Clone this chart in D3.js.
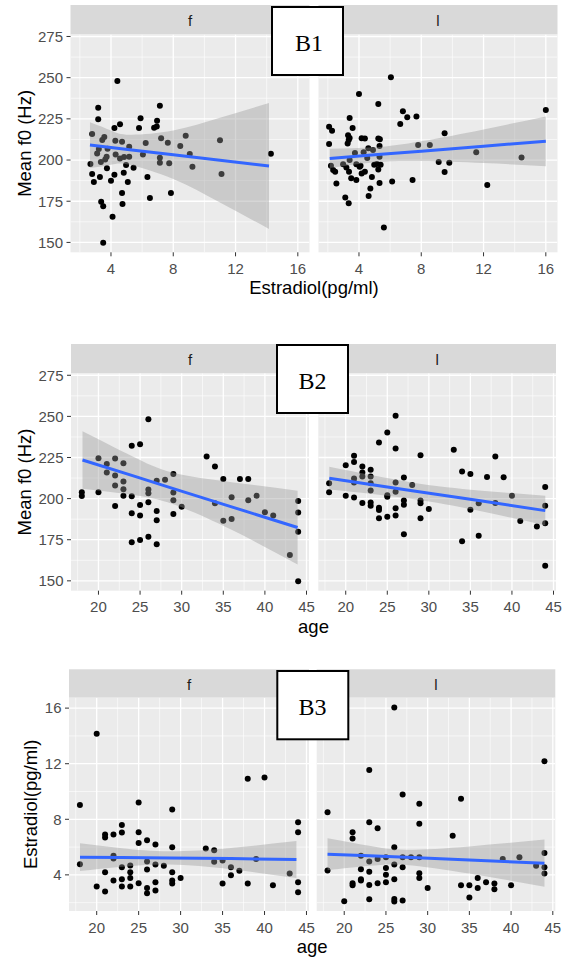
<!DOCTYPE html>
<html>
<head>
<meta charset="utf-8">
<script src="https://cdn.jsdelivr.net/npm/d3@7"></script>
<style>
    body {margin: 0; background: #fff;}
    svg {display: block; font-family: "Liberation Sans", Arial, sans-serif;}
</style>
</head>
<body>
<div id="chart"></div>
<script>
// facet names and tick labels
const facets = ["f", "l"];
const f0Ticks = [150, 175, 200, 225, 250, 275];
const f0Minor = [162.5, 187.5, 212.5, 237.5, 262.5];
const estradiolTicks = [4, 8, 12, 16];
const estradiolMinor = [2, 6, 10, 14];
const ageTicks = [20, 25, 30, 35, 40, 45];
const ageMinor = [17.5, 22.5, 27.5, 32.5, 37.5, 42.5];

// B1: estradiol vs mean f0
const b1FemaleEstradiol = [4.41,3.18,3.18,7.14,5.9,4.58,4.22,5.8,6.77,6.96,6.94,2.79,3.57,3.44,4.28,4.71,7.22,7.65,6.23,8.8,8.45,11.0,5.17,3.22,3.11,3.78,4.3,6.05,9.06,14.27,3.72,3.63,4.58,4.84,5.17,7.14,7.14,7.74,3.35,2.68,4.97,9.23,3.74,5.45,2.79,4.22,4.82,11.1,3.29,2.9,4.0,5.08,6.34,4.71,7.85,6.5,3.37,4.74,3.5,4.1,3.5];
const b1FemaleF0 = [248,231.8,224.7,233,225.3,221.7,219.4,219.4,219.6,223.9,220.4,215.8,214,212.1,211.7,211.1,213.2,210.5,210.3,214.8,208.5,212,208,206.7,204,206.9,203.4,203.4,203.6,203.8,202,200.4,201,201.8,202,201.4,198.4,198,198.8,197.6,197,196,195,195.3,191.5,191.1,192.3,191.5,189.7,186.6,187.4,186.6,189.7,180,180,177,174.7,173.3,172,165.6,149.8];
const b1LEstradiol = [6.05,4.0,5.24,6.82,7.1,7.69,6.65,3.4,2.08,2.27,3.59,9.5,16.0,3.3,3.4,3.34,4.17,4.38,5.24,5.34,3.27,2.08,5.32,7.8,8.55,4.6,4.9,4.3,3.74,11.53,14.44,4.53,3.4,5.32,9.12,9.8,2.98,2.2,3.83,4.1,4.98,5.15,5.39,3.19,4.04,5.24,2.34,2.47,3.36,4.38,4.17,9.5,3.5,3.83,4.83,5.32,6.13,7.44,2.55,12.24,4.73,4.62,3.12,3.34,5.6];
const b1LF0 = [250.2,240.1,234,229.6,225.9,226.5,221.9,225.5,220.2,217.8,219.4,216.2,230.4,215,213.4,212.1,213.2,213,213,212.6,210.1,209.7,208.5,209.1,209.1,207.1,206.1,204.7,204.3,204.7,201.6,201.2,200,202,198.8,198.4,197.4,196.6,197.4,196.6,197.2,197.6,197.2,195.5,196,194.3,193.9,192.9,192.9,192.9,191.9,192.7,188.9,187.9,189.7,186,187,187.9,185.8,184.8,182.8,178.1,177.3,173.7,159.1];

// B2: age vs mean f0
const b2FemaleAge = [18,18,20,20,21,21,22,22,22,22,23,23,23,23,24,24,24,24,25,25,25,25,26,26,26,26,26,27,27,27,27,28,29,29,29,29,30,33,34,34,35,35,36,36,37,38,38,39,40,41,43,44,44,44,44];
const b2FemaleF0 = [203.9,201.6,203.9,224.6,221.1,215.9,224.4,214,207.9,195.5,221.5,210.4,205.7,201.8,232.1,201.4,191.1,173.4,233.1,196.1,189.8,174.8,248.2,205.5,203.3,197.8,176.8,210.8,192.5,186.8,172.2,211.4,215,203.7,199,190.6,195.1,225.6,219.5,197.2,212,186.6,200.8,187.6,212,212,199,201.8,191.7,189.8,165.7,198.6,191.5,179.9,149.8];
const b2LAge = [18,18,20,20,21,21,21,21,21,22,22,22,22,23,23,23,23,23,23,24,24,24,24,25,25,25,25,26,26,26,26,26,26,27,27,27,27,28,29,29,29,29,30,33,34,34,35,35,36,36,37,38,38,39,40,41,43,44,44,44,44];
const b2LF0 = [209.3,203.9,220.3,201.8,226,222.2,212.2,209.8,200.6,219.5,215.9,213.4,197.4,217.5,213.4,209.3,204.9,197.6,195.7,234.1,194.5,193.1,188,240.2,202,201.2,189,250.4,230.5,209.8,204.1,194.1,189.8,212.8,198.8,196.3,178.3,208.3,226.4,198.8,197.2,188,193.7,229.7,216.5,174,215,193.3,197.2,177.4,213.2,225.6,197.4,213,201.8,186.4,183.1,207.1,195.7,185,159.1];

// B3: age vs estradiol
const b3FemaleAge = [18,18,20,20,21,21,21,21,22,22,22,22,23,23,23,23,23,24,24,24,24,25,25,25,25,26,26,26,26,26,27,27,27,27,28,29,29,29,29,29,30,33,34,34,35,35,36,36,37,38,38,39,40,41,43,44,44,44,44];
const b3FemaleEstradiol = [9.02,4.77,14.15,3.16,2.8,4.19,6.9,6.69,6.9,5.37,5.18,3.59,7.58,7.05,4.55,3.69,3.16,4.67,4.19,3.78,3.16,9.2,7.07,6.3,3.4,6.5,4.96,4.38,3.06,2.68,6.18,4.74,3.47,2.87,4.65,8.7,5.99,4.19,3.59,3.38,3.78,5.9,5.78,4.94,5.03,3.38,4.55,3.98,4.29,10.91,3.38,5.15,11.0,3.26,4.1,7.79,7.07,3.47,2.75];
const b3LAge = [18,18,20,21,21,21,21,22,22,22,22,23,23,23,23,23,23,24,24,24,25,25,25,25,26,26,26,26,26,26,27,27,27,27,28,29,29,29,29,29,30,33,34,34,35,35,36,36,37,38,38,39,40,41,43,44,44,44,44];
const b3LEstradiol = [8.51,4.31,2.1,7.07,6.62,3.4,3.26,5.37,4.41,3.69,3.59,11.54,7.79,4.96,4.22,3.28,2.25,7.36,5.15,3.4,5.27,4.5,4.0,3.47,16.05,5.99,4.74,3.69,2.27,2.08,9.78,5.27,4.55,2.15,5.27,9.11,7.67,5.27,4.12,3.78,3.06,6.81,9.47,3.26,3.26,2.37,3.78,3.06,3.47,3.38,2.97,5.15,3.26,5.27,4.65,12.18,5.58,4.55,4.1];

// linear fits and 95% bands
const b1FemaleFitX = [2.65, 4, 5.2, 8, 11, 14.15];
const b1FemaleFit = [209.1, 207.6, 206.3, 203.2, 199.9, 196.4];
const b1FemaleLow = [195.2, 197.2, 197.2, 188.5, 174.2, 158.2];
const b1FemaleHigh = [223.0, 218.0, 215.4, 217.9, 225.6, 234.6];
const b1LFitX = [2.12, 5, 8, 12, 16];
const b1LFit = [201.0, 203.2, 205.4, 208.4, 211.4];
const b1LLow = [195.1, 198.7, 199.4, 198.2, 196.3];
const b1LHigh = [206.9, 207.7, 211.4, 218.6, 226.5];

const b2FemaleFitX = [18.08, 24, 29, 36, 43.93];
const b2FemaleFit = [223.5, 214.1, 206.1, 195.0, 182.4];
const b2FemaleLow = [206.0, 202.3, 196.5, 181.0, 160.0];
const b2FemaleHigh = [241.0, 225.9, 215.7, 210.0, 204.8];
const b2LFitX = [18.02, 28, 36, 44.01];
const b2LFit = [212.4, 204.8, 198.8, 192.7];
const b2LLow = [205.5, 199.8, 192.6, 183.7];
const b2LHigh = [219.3, 209.8, 205.0, 201.7];

const b3FemaleFitX = [18.01, 23, 28.7, 36, 43.8];
const b3FemaleFit = [5.27, 5.25, 5.22, 5.17, 5.10];
const b3FemaleLow = [4.27, 4.58, 4.74, 4.40, 3.77];
const b3FemaleHigh = [6.27, 5.92, 5.70, 5.94, 6.43];
const b3LFitX = [18, 23, 27.4, 35, 44];
const b3LFit = [5.49, 5.37, 5.26, 5.07, 4.84];
const b3LLow = [4.34, 4.65, 4.71, 4.09, 3.14];
const b3LHigh = [6.64, 6.09, 5.81, 6.05, 6.54];

const width = 566, height = 958;

const svg = d3.select("#chart").append("svg")
    .attr("width", width)
    .attr("height", height);

svg.append("rect").attr("width", width).attr("height", height).attr("fill", "#fff");

function drawPanel(cfg, idx) {
    const g = svg.append("g");
    const scaleY = d3.scaleLinear().domain(cfg.yDomain).range([cfg.panelBottom, cfg.panelTop]);

    cfg.facetX.forEach(function(fx, fi) {
        const scaleX = d3.scaleLinear().domain(cfg.xDomain).range(fx);
        const s = cfg.series[fi];
        const fg = g.append("g");
        const clipId = "clip" + idx + "_" + fi;

        fg.append("clipPath").attr("id", clipId)
            .append("rect")
            .attr("x", fx[0]).attr("y", cfg.panelTop)
            .attr("width", fx[1] - fx[0]).attr("height", cfg.panelBottom - cfg.panelTop);

        //strip
        fg.append("rect")
            .attr("x", fx[0]).attr("y", cfg.stripTop)
            .attr("width", fx[1] - fx[0]).attr("height", cfg.panelTop - cfg.stripTop)
            .attr("fill", "#D9D9D9");
        fg.append("text")
            .attr("x", (fx[0] + fx[1]) / 2)
            .attr("y", cfg.stripTop + 20.5)
            .attr("text-anchor", "middle")
            .attr("font-size", 15)
            .attr("fill", "#1A1A1A")
            .text(facets[fi]);

        //panel background
        fg.append("rect")
            .attr("x", fx[0]).attr("y", cfg.panelTop)
            .attr("width", fx[1] - fx[0]).attr("height", cfg.panelBottom - cfg.panelTop)
            .attr("fill", "#EBEBEB");

        //grid
        const grid = fg.append("g").attr("clip-path", `url(#${clipId})`);
        grid.selectAll(".ymin").data(cfg.yMinor).join("line")
            .attr("x1", fx[0]).attr("x2", fx[1])
            .attr("y1", d => scaleY(d)).attr("y2", d => scaleY(d))
            .attr("stroke", "#fff").attr("stroke-width", 0.6);
        grid.selectAll(".xmin").data(cfg.xMinor).join("line")
            .attr("x1", d => scaleX(d)).attr("x2", d => scaleX(d))
            .attr("y1", cfg.panelTop).attr("y2", cfg.panelBottom)
            .attr("stroke", "#fff").attr("stroke-width", 0.6);
        grid.selectAll(".ymaj").data(cfg.yTicks).join("line")
            .attr("x1", fx[0]).attr("x2", fx[1])
            .attr("y1", d => scaleY(d)).attr("y2", d => scaleY(d))
            .attr("stroke", "#fff").attr("stroke-width", 1.3);
        grid.selectAll(".xmaj").data(cfg.xTicks).join("line")
            .attr("x1", d => scaleX(d)).attr("x2", d => scaleX(d))
            .attr("y1", cfg.panelTop).attr("y2", cfg.panelBottom)
            .attr("stroke", "#fff").attr("stroke-width", 1.3);

        //points
        const plot = fg.append("g").attr("clip-path", `url(#${clipId})`);
        plot.selectAll("circle").data(s.x).join("circle")
            .attr("cx", d => scaleX(d))
            .attr("cy", (d, i) => scaleY(s.y[i]))
            .attr("r", 3)
            .attr("fill", "#000");

        //smooth: band then fit line
        plot.append("path")
            .datum(s.fitX)
            .attr("fill", "#999999")
            .attr("fill-opacity", 0.4)
            .attr("d", d3.area()
                .curve(d3.curveNatural)
                .x(d => scaleX(d))
                .y0((d, i) => scaleY(s.low[i]))
                .y1((d, i) => scaleY(s.high[i])));
        plot.append("path")
            .datum(s.fitX)
            .attr("fill", "none")
            .attr("stroke", "#3366FF")
            .attr("stroke-width", 3)
            .attr("d", d3.line()
                .x(d => scaleX(d))
                .y((d, i) => scaleY(s.fit[i])));

        //x axis ticks
        const xa = fg.append("g");
        xa.selectAll("line").data(cfg.xTicks).join("line")
            .attr("x1", d => scaleX(d)).attr("x2", d => scaleX(d))
            .attr("y1", cfg.panelBottom).attr("y2", cfg.panelBottom + 4)
            .attr("stroke", "#333333").attr("stroke-width", 1);
        xa.selectAll("text").data(cfg.xTicks).join("text")
            .attr("x", d => scaleX(d))
            .attr("y", cfg.panelBottom + 21.5)
            .attr("text-anchor", "middle")
            .attr("font-size", 15)
            .attr("fill", "#4D4D4D")
            .text(d => d);

        //y axis only on the first facet
        if (fi === 0) {
            const ya = fg.append("g");
            ya.selectAll("line").data(cfg.yTicks).join("line")
                .attr("x1", fx[0] - 4).attr("x2", fx[0])
                .attr("y1", d => scaleY(d)).attr("y2", d => scaleY(d))
                .attr("stroke", "#333333").attr("stroke-width", 1);
            ya.selectAll("text").data(cfg.yTicks).join("text")
                .attr("x", fx[0] - 7.5)
                .attr("y", d => scaleY(d) + 5.3)
                .attr("text-anchor", "end")
                .attr("font-size", 15)
                .attr("fill", "#4D4D4D")
                .text(d => d);
        }
    });

    //axis titles
    g.append("text")
        .attr("x", (cfg.facetX[0][0] + cfg.facetX[1][1]) / 2)
        .attr("y", cfg.panelBottom + 42)
        .attr("text-anchor", "middle")
        .attr("font-size", 18.5)
        .attr("fill", "#000")
        .text(cfg.xTitle);
    g.append("text")
        .attr("transform", `translate(${cfg.yTitleX},${(cfg.panelTop + cfg.panelBottom) / 2}) rotate(-90)`)
        .attr("text-anchor", "middle")
        .attr("font-size", 18.5)
        .attr("fill", "#000")
        .text(cfg.yTitle);

    //label box
    g.append("rect")
        .attr("x", cfg.box[0]).attr("y", cfg.box[1])
        .attr("width", cfg.box[2]).attr("height", cfg.box[3])
        .attr("fill", "#fff")
        .attr("stroke", "#000")
        .attr("stroke-width", 2);
    g.append("text")
        .attr("x", cfg.labelPos[0])
        .attr("y", cfg.labelPos[1])
        .attr("text-anchor", "middle")
        .attr("font-family", "'Liberation Serif', 'Times New Roman', serif")
        .attr("font-size", 24)
        .attr("fill", "#000")
        .text(cfg.label);
}

const panels = [
    {
        label: "B1", box: [272, 7, 71, 68], labelPos: [309, 50.7],
        stripTop: 5, panelTop: 34.5, panelBottom: 252.3,
        facetX: [[70.5, 309.5], [318.5, 557.5]],
        xDomain: [1.4, 16.75], yDomain: [144, 276.2],
        xTicks: estradiolTicks, xMinor: estradiolMinor,
        yTicks: f0Ticks, yMinor: f0Minor,
        series: [
            {x: b1FemaleEstradiol, y: b1FemaleF0, fitX: b1FemaleFitX, fit: b1FemaleFit, low: b1FemaleLow, high: b1FemaleHigh},
            {x: b1LEstradiol, y: b1LF0, fitX: b1LFitX, fit: b1LFit, low: b1LLow, high: b1LHigh}
        ],
        xTitle: "Estradiol(pg/ml)", yTitle: "Mean f0 (Hz)", yTitleX: 30.5
    },
    {
        label: "B2", box: [277, 345, 71, 68], labelPos: [312.5, 389.3],
        stripTop: 344, panelTop: 373.3, panelBottom: 590.7,
        facetX: [[71, 309], [318.3, 556]],
        xDomain: [16.7, 45.3], yDomain: [144, 276.2],
        xTicks: ageTicks, xMinor: ageMinor,
        yTicks: f0Ticks, yMinor: f0Minor,
        series: [
            {x: b2FemaleAge, y: b2FemaleF0, fitX: b2FemaleFitX, fit: b2FemaleFit, low: b2FemaleLow, high: b2FemaleHigh},
            {x: b2LAge, y: b2LF0, fitX: b2LFitX, fit: b2LFit, low: b2LLow, high: b2LHigh}
        ],
        xTitle: "age", yTitle: "Mean f0 (Hz)", yTitleX: 30.5
    },
    {
        label: "B3", box: [277.3, 671, 71, 68.3], labelPos: [312.5, 715],
        stripTop: 669.3, panelTop: 697.7, panelBottom: 911,
        facetX: [[69, 309], [316.7, 555.3]],
        xDomain: [16.7, 45.3], yDomain: [1.4, 16.75],
        xTicks: ageTicks, xMinor: ageMinor,
        yTicks: estradiolTicks, yMinor: estradiolMinor,
        series: [
            {x: b3FemaleAge, y: b3FemaleEstradiol, fitX: b3FemaleFitX, fit: b3FemaleFit, low: b3FemaleLow, high: b3FemaleHigh},
            {x: b3LAge, y: b3LEstradiol, fitX: b3LFitX, fit: b3LFit, low: b3LLow, high: b3LHigh}
        ],
        xTitle: "age", yTitle: "Estradiol(pg/ml)", yTitleX: 37
    }
];

panels.forEach(drawPanel);
</script>
</body>
</html>
